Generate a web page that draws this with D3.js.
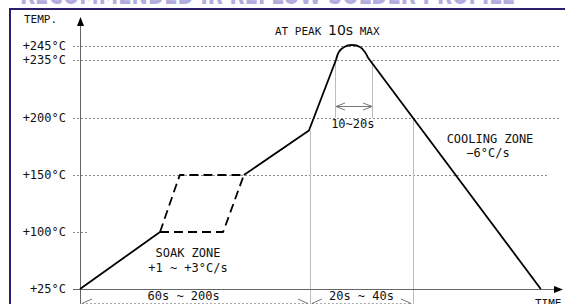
<!DOCTYPE html>
<html><head><meta charset="utf-8">
<script src="https://cdn.jsdelivr.net/npm/d3@7"></script>
<style>
html,body{margin:0;padding:0;background:#fff;overflow:hidden}
text{font-family:"DejaVu Sans Mono",monospace;fill:#111}
</style></head>
<body>
<script>
// ---- data (schematic time units 0..100, temperature in °C) ----
const title = "RECOMMENDED IR REFLOW SOLDER PROFILE";
const tempTicks = [25, 100, 150, 200, 235, 245];
const tempLabels = ["+25°C", "+100°C", "+150°C", "+200°C", "+235°C", "+245°C"];
const tickPixels = [289, 232, 175, 118, 60, 46]; // non-uniform schematic temperature axis
const gridEnds = [0, 1.7, 97.3, 99.5, 99.5, 99.5]; // extent of dotted reference lines (time units)
const preheat = [[0, 25], [16.6, 100]];
const soakFast = [[16.6, 100], [20.7, 150], [34.0, 150]];
const soakSlow = [[16.6, 100], [29.7, 100], [34.0, 150]];
const rampUp = [[34.0, 150], [47.5, 189], [53.1, 235]];
const peakDome = [[53.1, 235], [53.7, 240.7], [54.8, 244.3], [56.4, 245.7], [58.1, 244.3], [59.1, 240.7], [59.8, 236.4]];
const cooling = [[59.8, 236.4], [95.6, 25]];
const zoneMarks = [{t: 47.7, from: 189}, {t: 69.1, from: 200}];
const peakMarks = [52.9, 60.6];
const dims = [{a: 0, b: 47.7, label: "60s ~ 200s", at: 21.5}, {a: 47.7, b: 69.1, label: "20s ~ 40s", at: 58.4}];

const W = 565, H = 304;
const svg = d3.select("body").append("svg").attr("width", W).attr("height", H);
svg.append("rect").attr("width", W).attr("height", H).attr("fill", "#fff");

const x = d3.scaleLinear().domain([0, 100]).range([80, 562]);
const y = d3.scaleLinear().domain(tempTicks).range(tickPixels);

// title (mostly clipped off the top)
svg.append("text").attr("x", 20).attr("y", 4).attr("textLength", 495).attr("lengthAdjust", "spacingAndGlyphs")
  .style("font-family", "DejaVu Sans").style("font-weight", "bold").style("font-size", "27px")
  .style("fill", "#b3acdf").text(title);

// frame
svg.append("rect").attr("x", 9).attr("y", 8).attr("width", W - 9).attr("height", 2).attr("fill", "#2c1d6e");
svg.append("rect").attr("x", 9).attr("y", 8).attr("width", 2).attr("height", H - 8).attr("fill", "#2c1d6e");

// dotted reference lines
tempTicks.forEach((t, i) => {
  if (i === 0) return;
  svg.append("line").attr("x1", 73).attr("x2", x(gridEnds[i])).attr("y1", Math.round(y(t)) + 0.5).attr("y2", Math.round(y(t)) + 0.5)
    .attr("stroke", "#8a8a8a").attr("stroke-width", 1).attr("stroke-dasharray", "2,2");
});

// vertical zone lines
zoneMarks.forEach(m => {
  svg.append("line").attr("x1", Math.round(x(m.t)) + 0.5).attr("x2", Math.round(x(m.t)) + 0.5)
    .attr("y1", y(m.from)).attr("y2", H).attr("stroke", "#bdbdbd");
});
peakMarks.forEach(t => {
  svg.append("line").attr("x1", Math.round(x(t)) + 0.5).attr("x2", Math.round(x(t)) + 0.5)
    .attr("y1", y(235)).attr("y2", y(200)).attr("stroke", "#bdbdbd");
});

// axes
svg.append("line").attr("x1", 80.5).attr("x2", 80.5).attr("y1", 24).attr("y2", H).attr("stroke", "#666");
svg.append("path").attr("d", "M80.5,17 L77,26 L84,26 Z").attr("fill", "#000");
svg.append("line").attr("x1", 73).attr("x2", 556).attr("y1", 289.5).attr("y2", 289.5).attr("stroke", "#666");
svg.append("path").attr("d", "M563,289.5 L554,286 L554,293 Z").attr("fill", "#000");

// tick labels
tempTicks.forEach((t, i) => {
  svg.append("text").attr("x", 66).attr("y", y(t) + 4).attr("text-anchor", "end")
    .style("font-size", "12px").text(tempLabels[i]);
});

// profile
const line = d3.line().x(d => x(d[0])).y(d => y(d[1]));
const draw = (data, dash, curve) => svg.append("path")
  .attr("d", (curve ? line.curve(curve) : line.curve(d3.curveLinear))(data))
  .attr("fill", "none").attr("stroke", "#000").attr("stroke-width", 1.8)
  .attr("stroke-dasharray", dash || null).attr("stroke-linejoin", "round");
draw(soakFast, "9,5");
draw(soakSlow, "9,5");
draw(preheat);
draw(rampUp);
draw(peakDome, null, d3.curveCatmullRom);
draw(cooling);

// 10~20s arrow
const arrow = (x1, x2, yy) => {
  svg.append("line").attr("x1", x1).attr("x2", x2).attr("y1", yy).attr("y2", yy).attr("stroke", "#777");
  svg.append("path").attr("d", `M${x1 + 9},${yy - 3.5} L${x1},${yy} L${x1 + 9},${yy + 3.5}`).attr("fill", "none").attr("stroke", "#777");
  svg.append("path").attr("d", `M${x2 - 9},${yy - 3.5} L${x2},${yy} L${x2 - 9},${yy + 3.5}`).attr("fill", "none").attr("stroke", "#777");
};
arrow(x(peakMarks[0]) + 1, x(peakMarks[1]), Math.round(y(207)) + 0.5);
svg.append("text").attr("x", x(56.6)).attr("y", 128).attr("text-anchor", "middle").style("font-size", "12px").text("10~20s");

// dimension lines at bottom
dims.forEach(d => {
  const yy = 303.5;
  svg.append("line").attr("x1", x(d.a) + 2).attr("x2", x(d.b) - 2).attr("y1", yy).attr("y2", yy)
    .attr("stroke", "#aaa").attr("stroke-dasharray", "2,2");
  svg.append("path").attr("d", `M${x(d.a) + 12},${yy - 4.5} L${x(d.a) + 2},${yy} L${x(d.a) + 12},${yy + 4.5}`).attr("fill", "none").attr("stroke", "#777");
  svg.append("path").attr("d", `M${x(d.b) - 12},${yy - 4.5} L${x(d.b) - 2},${yy} L${x(d.b) - 12},${yy + 4.5}`).attr("fill", "none").attr("stroke", "#777");
  svg.append("text").attr("x", x(d.at)).attr("y", 300).attr("text-anchor", "middle").style("font-size", "12px").text(d.label);
});

// annotations
svg.append("text").attr("x", 24).attr("y", 23).style("font-size", "11px").text("TEMP.");
const peak = svg.append("text").attr("x", 275).attr("y", 35).style("font-size", "11px");
peak.append("tspan").text("AT PEAK ");
peak.append("tspan").style("font-family", "DejaVu Sans").style("font-size", "14px").text("10s");
peak.append("tspan").text(" MAX");
svg.append("text").attr("x", 188).attr("y", 257).attr("text-anchor", "middle").style("font-size", "12px").text("SOAK ZONE");
svg.append("text").attr("x", 188).attr("y", 272).attr("text-anchor", "middle").style("font-size", "12px").text("+1 ~ +3°C/s");
svg.append("text").attr("x", 490).attr("y", 143).attr("text-anchor", "middle").style("font-size", "12px").text("COOLING ZONE");
svg.append("text").attr("x", 488).attr("y", 157).attr("text-anchor", "middle").style("font-size", "12px").text("−6°C/s");
svg.append("text").attr("x", 535).attr("y", 307).style("font-size", "11px").text("TIME");
</script>
</body></html>
